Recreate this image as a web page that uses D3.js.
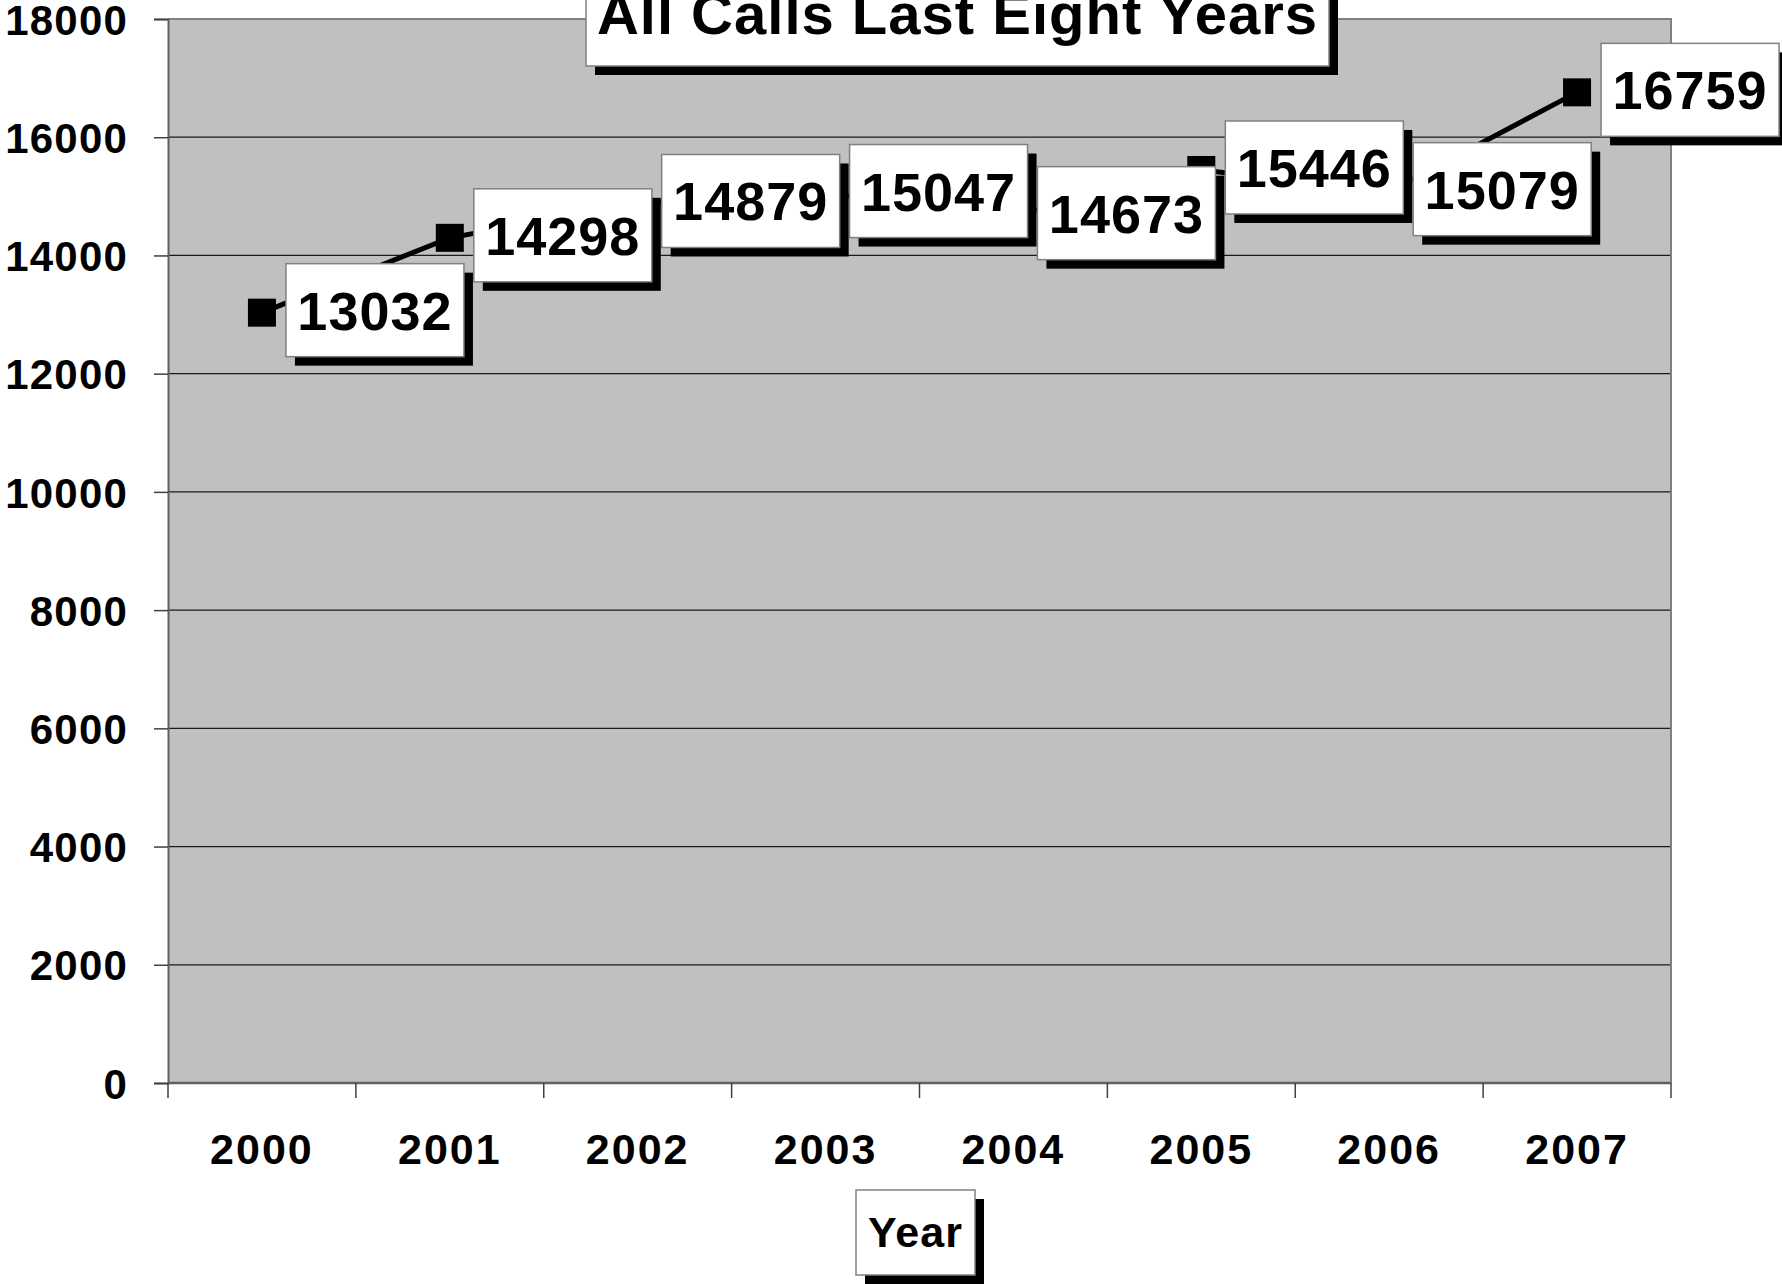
<!DOCTYPE html>
<html>
<head>
<meta charset="utf-8">
<script src="https://cdn.jsdelivr.net/npm/d3@7"></script>
<style>
  html, body { margin: 0; padding: 0; background: #fff; }
  svg { display: block; }
  text { font-family: "Liberation Sans", Arial, sans-serif; font-weight: bold; fill: #000; }
</style>
</head>
<body>
<svg id="chart" width="1782" height="1284"></svg>
<script>
const years = ["2000", "2001", "2002", "2003", "2004", "2005", "2006", "2007"];
const calls = [13032, 14298, 14879, 15047, 14673, 15446, 15079, 16759];
const yTicks = [0, 2000, 4000, 6000, 8000, 10000, 12000, 14000, 16000, 18000];
const titleText = "All Calls Last Eight Years";
const xTitleText = "Year";

const svg = d3.select("#chart");
const plot = { left: 168, right: 1671, top: 19, bottom: 1083 };

const x = d3.scaleBand().domain(years).range([plot.left, plot.right]).padding(0);
const y = d3.scaleLinear().domain([0, 18000]).range([plot.bottom, plot.top]);
const cx = d => x(d) + x.bandwidth() / 2;

// Plot background
svg.append("rect")
  .attr("x", plot.left).attr("y", plot.top)
  .attr("width", plot.right - plot.left).attr("height", plot.bottom - plot.top)
  .attr("fill", "#c0c0c0");

// Gridlines
svg.append("g").selectAll("line").data(yTicks.filter(t => t > 0 && t < 18000)).join("line")
  .attr("x1", plot.left).attr("x2", plot.right)
  .attr("y1", d => y(d)).attr("y2", d => y(d))
  .attr("stroke", "#1a1a1a").attr("stroke-width", 1.3);

// Plot border (top / right)
svg.append("path")
  .attr("d", `M${plot.left},${plot.top}H${plot.right}V${plot.bottom}`)
  .attr("fill", "none").attr("stroke", "#808080").attr("stroke-width", 2);

// Y axis
const yAxis = svg.append("g")
  .attr("transform", `translate(${plot.left},0)`)
  .call(d3.axisLeft(y).tickValues(yTicks).tickSize(14).tickPadding(26).tickFormat(d3.format("d")));
yAxis.select(".domain").attr("stroke", "#606060").attr("stroke-width", 2);
yAxis.selectAll(".tick line").attr("stroke", "#404040").attr("stroke-width", 1.5);
yAxis.selectAll(".tick text")
  .attr("font-size", 42).attr("dy", "0.36em")
  .style("letter-spacing", "1.2px")
  .attr("font-family", "Liberation Sans, Arial, sans-serif").attr("font-weight", "bold");

// X axis baseline
svg.append("line")
  .attr("x1", plot.left).attr("x2", plot.right)
  .attr("y1", plot.bottom).attr("y2", plot.bottom)
  .attr("stroke", "#606060").attr("stroke-width", 2.5);

// X ticks at band boundaries
const bounds = years.map(d => x(d)).concat([x.range()[1]]);
svg.append("g").selectAll("line").data(bounds).join("line")
  .attr("x1", d => d).attr("x2", d => d)
  .attr("y1", plot.bottom).attr("y2", plot.bottom + 15)
  .attr("stroke", "#404040").attr("stroke-width", 1.5);

// X labels
svg.append("g").selectAll("text").data(years).join("text")
  .attr("x", d => cx(d)).attr("y", 1164)
  .attr("text-anchor", "middle")
  .attr("font-size", 43)
  .style("letter-spacing", "2px")
  .text(d => d);

// Line
const pts = years.map((d, i) => [cx(d), y(calls[i])]);
svg.append("path")
  .attr("d", d3.line()(pts))
  .attr("fill", "none").attr("stroke", "#000").attr("stroke-width", 5);

// Markers
const ms = 28;
svg.append("g").selectAll("rect").data(pts).join("rect")
  .attr("x", d => d[0] - ms / 2).attr("y", d => d[1] - ms / 2)
  .attr("width", ms).attr("height", ms)
  .attr("fill", "#000");

// Data labels (boxed, with drop shadow)
const bw = 178, bh = 93, sh = 9;
const labels = svg.append("g");
years.forEach((d, i) => {
  const px = cx(d), py = y(calls[i]);
  const bx = px + 24, by = py - 2.5 - bh / 2;
  const g = labels.append("g");
  g.append("rect").attr("x", bx + sh).attr("y", by + sh).attr("width", bw).attr("height", bh).attr("fill", "#000");
  g.append("rect").attr("x", bx).attr("y", by).attr("width", bw).attr("height", bh)
    .attr("fill", "#fff").attr("stroke", "#808080").attr("stroke-width", 1.5);
  g.append("text").attr("x", bx + bw / 2).attr("y", by + bh / 2 + 19.5)
    .attr("text-anchor", "middle").attr("font-size", 54)
    .style("letter-spacing", "1px")
    .text(calls[i]);
});

// Title box
const tb = { left: 586, right: 1329, top: -40, bottom: 66 };
svg.append("rect").attr("x", tb.left + sh).attr("y", tb.top + sh)
  .attr("width", tb.right - tb.left).attr("height", tb.bottom - tb.top).attr("fill", "#000");
svg.append("rect").attr("x", tb.left).attr("y", tb.top)
  .attr("width", tb.right - tb.left).attr("height", tb.bottom - tb.top)
  .attr("fill", "#fff").attr("stroke", "#808080").attr("stroke-width", 1.5);
svg.append("text").attr("x", (tb.left + tb.right) / 2).attr("y", 34)
  .attr("text-anchor", "middle").attr("font-size", 58)
  .style("letter-spacing", "1px")
  .text(titleText);

// X axis title box
const xb = { left: 856, right: 975, top: 1190, bottom: 1275 };
svg.append("rect").attr("x", xb.left + sh).attr("y", xb.top + sh)
  .attr("width", xb.right - xb.left).attr("height", xb.bottom - xb.top).attr("fill", "#000");
svg.append("rect").attr("x", xb.left).attr("y", xb.top)
  .attr("width", xb.right - xb.left).attr("height", xb.bottom - xb.top)
  .attr("fill", "#fff").attr("stroke", "#808080").attr("stroke-width", 1.5);
svg.append("text").attr("x", (xb.left + xb.right) / 2).attr("y", 1247)
  .attr("text-anchor", "middle").attr("font-size", 43)
  .style("letter-spacing", "1px")
  .text(xTitleText);
</script>
</body>
</html>
